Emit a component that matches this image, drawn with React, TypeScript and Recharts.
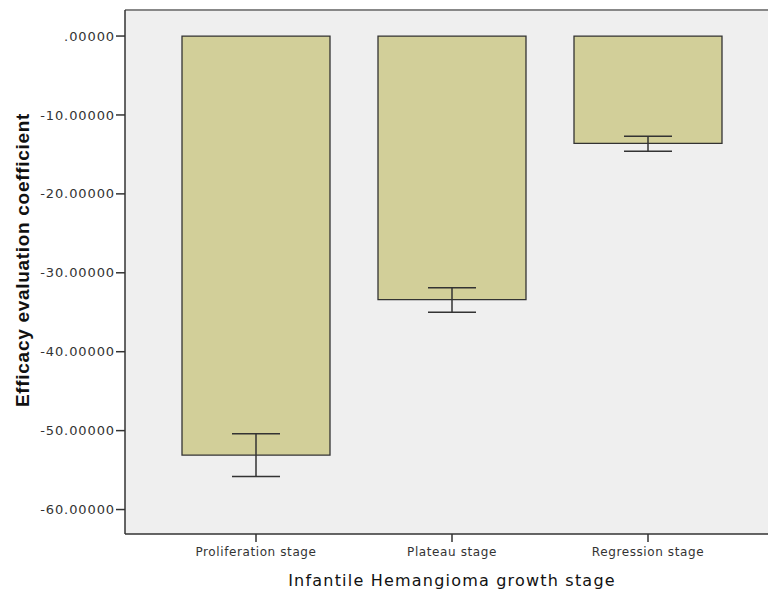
import React from 'react';
import { BarChart, Bar, XAxis, YAxis, CartesianGrid, ErrorBar, ReferenceLine, Label } from 'recharts';

const stages = ['Proliferation stage', 'Plateau stage', 'Regression stage'];
const means = [-53.1, -33.4, -13.6];
const errLow = [2.7, 1.6, 1.0];
const errHigh = [2.7, 1.5, 0.9];
const yTicks = [0, -10, -20, -30, -40, -50, -60];
const yDomain: [number, number] = [-63.1, 3.3];
const xTitle = 'Infantile Hemangioma growth stage';
const yTitle = 'Efficacy evaluation coefficient';

const data = stages.map((s, i) => ({ stage: s, value: means[i], err: [errLow[i], errHigh[i]] }));

const fmt = (v: number) => (v === 0 ? '.00000' : v.toFixed(5));

const YTitle = (props: any) => {
  const vb = props.viewBox || {};
  const cx = vb.x + 22;
  const cy = vb.y + vb.height / 2 - 12;
  return (
    <text
      x={cx}
      y={cy}
      transform={`rotate(-90, ${cx}, ${cy})`}
      textAnchor="middle"
      dominantBaseline="central"
      fontFamily="'Liberation Sans', Arial, sans-serif"
      fontWeight="bold"
      fontSize={19}
      letterSpacing={0.7}
      fill="#111"
    >
      {yTitle}
    </text>
  );
};

const XTitle = (props: any) => {
  const vb = props.viewBox || {};
  const cx = vb.x + vb.width / 2;
  const cy = vb.y + 46;
  return (
    <text
      x={cx}
      y={cy}
      textAnchor="middle"
      dominantBaseline="central"
      fontFamily="'DejaVu Sans', sans-serif"
      fontSize={16}
      letterSpacing={1.2}
      fill="#111"
    >
      {xTitle}
    </text>
  );
};

export default function App() {
  return (
    <div style={{ position: 'absolute', left: 0, top: 0, width: 768, height: 593, overflow: 'hidden', background: '#fff' }}>
      <BarChart width={790} height={593} data={data} margin={{ top: 10, right: 11, bottom: 0, left: 0 }}>
        <CartesianGrid horizontal={false} vertical={false} fill="#efefef" />
        <XAxis
          dataKey="stage"
          height={59}
          padding={{ left: 33, right: 33 }}
          tickSize={8}
          tickMargin={5}
          axisLine={{ stroke: '#333', strokeWidth: 1.5 }}
          tickLine={{ stroke: '#333', strokeWidth: 1.5 }}
          tick={{ fill: '#333', fontSize: 12, letterSpacing: 0.6, fontFamily: "'DejaVu Sans', sans-serif" }}
        >
          <Label content={<XTitle />} />
        </XAxis>
        <YAxis
          type="number"
          width={125}
          domain={yDomain}
          ticks={yTicks}
          interval={0}
          allowDataOverflow
          tickFormatter={fmt}
          tickSize={9}
          tickMargin={1}
          axisLine={{ stroke: '#333', strokeWidth: 1.5 }}
          tickLine={{ stroke: '#333', strokeWidth: 1.5 }}
          tick={{ fill: '#333', fontSize: 13, letterSpacing: 0.9, fontFamily: "'DejaVu Sans', sans-serif" }}
        >
          <Label content={<YTitle />} />
        </YAxis>
        <ReferenceLine y={yDomain[1]} stroke="#888" strokeWidth={2} />
        <Bar dataKey="value" barSize={148} fill="#d2cf99" stroke="#333" strokeWidth={1.3} isAnimationActive={false}>
          <ErrorBar dataKey="err" width={24} stroke="#333" strokeWidth={1.5} direction="y" isAnimationActive={false} />
        </Bar>
      </BarChart>
    </div>
  );
}
